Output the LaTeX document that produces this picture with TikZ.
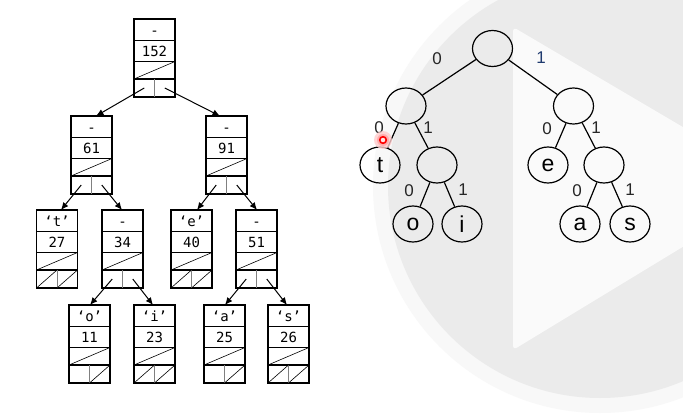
\documentclass[tikz,border=0pt]{standalone}
\usepackage{fontspec}
\setmonofont{DejaVu Sans Mono}
\setsansfont{Liberation Sans}
\usetikzlibrary{arrows.meta,calc,shapes.geometric}
\definecolor{discgray}{HTML}{EBEBEB}
\definecolor{ringgray}{HTML}{F8F8F8}
\definecolor{trigray}{HTML}{FAFAFA}
\definecolor{navy}{HTML}{1F3A6E}
\tikzset{
  hbox/.style={draw, line width=1.6pt, minimum width=41pt, minimum height=78pt, inner sep=0pt, outer sep=0pt},
  rowsep/.style={line width=1.4pt},
  diag/.style={line width=0.6pt},
  cellsep/.style={line width=0.6pt, draw=gray},
  boxtxt/.style={font=\ttfamily\fontsize{14}{14}\selectfont, inner sep=0pt},
  arr/.style={line width=1pt, -{Latex[length=7.5pt,width=6.5pt]}},
  tnode/.style={draw, ellipse, line width=1.2pt, minimum width=40pt, minimum height=36pt, inner sep=0pt, font=\sffamily\fontsize{23}{23}\selectfont},
  tedge/.style={line width=1.2pt},
  lbl/.style={font=\sffamily\fontsize{17}{17}\selectfont, inner sep=0pt, text=black!85},
}
% name, cx, cy, top text, count, left-cell diag, right-cell diag
\newcommand\hnode[7]{%
  \node[hbox] (#1) at (#2,#3) {};
  \draw[rowsep] ($(#1.north west)+(0,21.5)$) -- ($(#1.north east)+(0,21.5)$);
  \draw[rowsep] ($(#1.north west)+(0,42.5)$) -- ($(#1.north east)+(0,42.5)$);
  \draw[rowsep] ($(#1.north west)+(0,60)$) -- ($(#1.north east)+(0,60)$);
  \draw[diag] ($(#1.north west)+(0,60)$) -- ($(#1.north east)+(0,42.5)$);
  \draw[cellsep] ($(#1.north)+(0,60)$) -- (#1.south);
  \ifnum#6=1 \draw[diag] (#1.south west) -- ($(#1.north)+(0,60)$);\fi
  \ifnum#7=1 \draw[diag] (#1.south) -- ($(#1.north east)+(0,60)$);\fi
  \node[boxtxt, anchor=base] (#1-k) at ($(#1.north)+(0,16)$) {#4};
  \node[boxtxt, anchor=base] (#1-n) at ($(#1.north)+(0,37.5)$) {#5};
  \coordinate (#1-l) at ($(#1.south west)+(10.25,-9)$);
  \coordinate (#1-r) at ($(#1.south)+(10.25,-9)$);
}
\begin{document}
\begin{tikzpicture}[x=1pt,y=-1pt]
\clip (0,0) rectangle (683,415);
\fill[white] (0,0) rectangle (683,415);
% background watermark
\fill[ringgray] (600,186) circle (227pt);
\fill[discgray] (600,186) circle (212pt);
\fill[trigray, rounded corners=4pt] (513,27) -- (783,186) -- (513,350) -- cycle;

% ---------- left: node records ----------
\hnode{n152}{154.5}{58}{-}{152}{0}{0}
\hnode{n61}{91.5}{155}{-}{61}{0}{0}
\hnode{n91}{226.5}{155}{-}{91}{0}{0}
\hnode{nt}{57}{249}{‘t’}{27}{1}{1}
\hnode{n34}{122.5}{249}{-}{34}{0}{0}
\hnode{ne}{191.5}{249}{‘e’}{40}{1}{1}
\hnode{n51}{256.5}{249}{-}{51}{0}{0}
\hnode{no}{89.5}{344}{‘o’}{11}{0}{1}
\hnode{ni}{154.5}{344}{‘i’}{23}{1}{1}
\hnode{na}{224.5}{344}{‘a’}{25}{0}{1}
\hnode{ns}{288.5}{344}{‘s’}{26}{1}{1}

\draw[arr] (n152-l) -- ([xshift=4.5pt]n61.north);
\draw[arr] (n152-r) -- ([xshift=-6.5pt]n91.north);
\draw[arr] (n61-l) -- ([xshift=4pt]nt.north);
\draw[arr] (n61-r) -- ([xshift=-0.5pt]n34.north);
\draw[arr] (n91-l) -- ([xshift=5.5pt]ne.north);
\draw[arr] (n91-r) -- ([xshift=0.5pt]n51.north);
\draw[arr] (n34-l) -- ([xshift=0.5pt]no.north);
\draw[arr] (n34-r) -- ([xshift=-1.5pt]ni.north);
\draw[arr] (n51-l) -- ([xshift=0.5pt]na.north);
\draw[arr] (n51-r) -- ([xshift=-1.5pt]ns.north);

% ---------- right: code tree ----------
\node[tnode] (r0) at (492.5,48.5) {};
\node[tnode] (r1) at (406,106) {};
\node[tnode] (r2) at (573.5,106) {};
\node[tnode] (lt) at (380,165) {t};
\node[tnode] (r3) at (437,165) {};
\node[tnode] (le) at (548,165) {e};
\node[tnode] (r4) at (604,165) {};
\node[tnode] (lo) at (413,224) {o};
\node[tnode] (li) at (462,224) {i};
\node[tnode] (la) at (580,224) {a};
\node[tnode] (ls) at (630,224) {s};

\draw[tedge] (r0) -- (r1);
\draw[tedge] (r0) -- (r2);
\draw[tedge] (r1) -- (lt);
\draw[tedge] (r1) -- (r3);
\draw[tedge] (r2) -- (le);
\draw[tedge] (r2) -- (r4);
\draw[tedge] (r3) -- (lo);
\draw[tedge] (r3) -- (li);
\draw[tedge] (r4) -- (la);
\draw[tedge] (r4) -- (ls);

\node[lbl] (b1) at (437,59) {0};
\node[lbl, text=navy] (b2) at (541,58) {1};
\node[lbl] (b3) at (379,128) {0};
\node[lbl] (b4) at (428,128) {1};
\node[lbl] (b5) at (547,129) {0};
\node[lbl] (b6) at (596,128) {1};
\node[lbl] (b7) at (409,191) {0};
\node[lbl] (b8) at (463,190) {1};
\node[lbl] (b9) at (577,191) {0};
\node[lbl] (b10) at (630,190) {1};

% cursor highlight
\fill[red!20, opacity=0.8] (383,140) circle (9pt);
\fill[red!35, opacity=0.8] (383,140) circle (6pt);
\draw[red, line width=1.6pt, fill=red!10] (383,140) circle (3.3pt);
\end{tikzpicture}
\end{document}
